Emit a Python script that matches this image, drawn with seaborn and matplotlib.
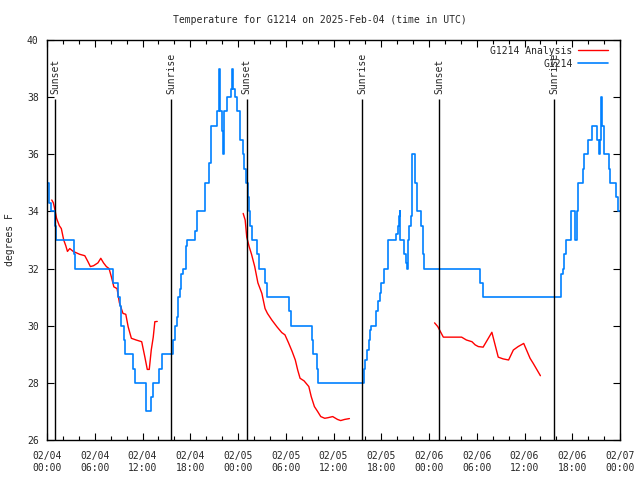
import matplotlib
matplotlib.use('Agg')
import matplotlib.pyplot as plt
from matplotlib.lines import Line2D
from matplotlib.ticker import MultipleLocator
import numpy as np
import pandas as pd
import seaborn as sns

# hours since 2025-02-04 00:00 UTC
obs_hours = [0.0, 0.3, 0.5, 1.0, 1.15, 3.35, 3.5, 8.35, 8.9, 9.2, 9.3, 9.7, 9.8,
             10.85, 11.1, 12.4, 12.5, 13.1, 13.3, 14.1, 14.4, 15.8, 16.1, 16.3,
             16.5, 16.7, 16.9, 17.1, 17.5, 17.6, 18.6, 18.9, 19.9, 20.4, 20.6,
             21.4, 21.6, 21.8, 22.0, 22.15, 22.3, 22.6, 23.1, 23.25, 23.4, 23.6,
             23.9, 24.2, 24.3, 24.6, 24.75, 25.0, 25.2, 25.35, 25.5, 25.7, 26.35,
             26.6, 27.4, 27.7, 30.4, 30.7, 33.3, 33.4, 33.9, 34.1, 39.8, 40.0,
             40.2, 40.4, 40.6, 40.7, 41.4, 41.6, 41.8, 42.0, 42.3, 42.8, 42.9,
             43.9, 44.05, 44.2, 44.3, 44.4, 44.9, 45.1, 45.2, 45.3, 45.5, 45.7,
             45.9, 46.2, 46.45, 46.95, 47.3, 47.4, 54.45, 54.8, 64.55, 64.8, 65.0,
             65.2, 65.9, 66.4, 66.55, 66.7, 67.4, 67.5, 68.0, 68.45, 69.1, 69.3,
             69.45, 69.6, 69.8, 70.0, 70.6, 70.8, 71.5, 71.8, 72.0]
obs_temps = [35, 34.3, 34, 33.5, 33, 32.5, 32, 31.5, 31, 30.7, 30, 29.5, 29,
             28.5, 28, 27.5, 27, 27.5, 28, 28.5, 29, 29.5, 30, 30.3,
             31, 31.3, 31.8, 32, 32.8, 33, 33.3, 34, 35, 35.7, 37,
             37.5, 39, 37.5, 36.8, 36, 37.5, 38, 38.3, 39, 38.3, 38,
             37.5, 37, 36.5, 36, 35.5, 35, 34.5, 34, 33.5, 33, 32.5,
             32, 31.5, 31, 30.5, 30, 29.5, 29, 28.5, 28, 28.5, 28.8,
             29.15, 29.5, 29.85, 30, 30.5, 30.85, 31.15, 31.5, 32, 32.5, 33,
             33.2, 33.5, 33.85, 34, 33, 32.5, 32.2, 32, 33, 33.5, 33.85,
             36, 35, 34, 33.5, 32.5, 32, 31.5, 31, 31.8, 32, 32.5,
             33, 34, 33, 34, 35, 35.5, 36, 36.5, 37, 36.5, 36,
             36.5, 38, 37, 36, 35.5, 35, 34.5, 34, 34]

ana1_hours = [0.6, 0.8, 1.0, 1.2, 1.55, 1.8, 2.1, 2.36, 2.57, 2.86, 3.3, 3.7, 4.1,
              4.75, 5.15, 5.45, 5.85, 6.4, 6.76, 7.1, 7.46, 7.8, 8.1, 8.4, 8.8,
              9.1, 9.55, 9.9, 10.2, 10.6, 11.2, 11.9, 12.3, 12.6, 12.85, 13.1,
              13.35, 13.55, 13.85]
ana1_temps = [34.4, 34.3, 34.05, 33.76, 33.5, 33.4, 33.0, 32.8, 32.6, 32.7, 32.6,
              32.55, 32.5, 32.45, 32.24, 32.07, 32.1, 32.2, 32.36, 32.2, 32.07,
              32.0, 31.7, 31.36, 31.3, 30.8, 30.43, 30.4, 29.96, 29.56, 29.5,
              29.44, 28.9, 28.47, 28.47, 29.15, 29.6, 30.14, 30.15]
ana2_hours = [24.65, 24.9, 25.1, 25.4, 25.7, 26.1, 26.5, 27.0, 27.4, 27.7, 28.25,
              28.9, 29.5, 29.9, 30.35, 30.8, 31.2, 31.5, 31.8, 32.3, 32.9, 33.2,
              33.6, 34.0, 34.4, 34.9, 35.3, 35.9, 36.5, 36.9, 37.4, 38.0]
ana2_temps = [33.93, 33.7, 33.1, 32.77, 32.5, 32.07, 31.5, 31.13, 30.6, 30.43,
              30.2, 29.96, 29.76, 29.68, 29.4, 29.1, 28.8, 28.45, 28.16, 28.07,
              27.87, 27.52, 27.17, 27.0, 26.82, 26.76, 26.78, 26.82, 26.72,
              26.68, 26.72, 26.75]
ana3_hours = [48.7, 49.1, 49.8, 52.1, 52.7, 53.4, 53.8, 54.2, 54.8, 55.9, 56.7,
              57.3, 58.0, 58.6, 59.2, 59.9, 60.7, 61.1, 62.0]
ana3_temps = [30.1, 29.97, 29.6, 29.6, 29.5, 29.44, 29.33, 29.27, 29.25, 29.77,
              28.9, 28.84, 28.8, 29.15, 29.27, 29.38, 28.86, 28.68, 28.25]

sun_hours = [1.0, 15.6, 25.1, 39.6, 49.3, 63.7]
sun_names = ['Sunset', 'Sunrise', 'Sunset', 'Sunrise', 'Sunset', 'Sunrise']

tick_hours = list(range(0, 73, 6))
tick_labels = ['02/04\n00:00', '02/04\n06:00', '02/04\n12:00', '02/04\n18:00',
               '02/05\n00:00', '02/05\n06:00', '02/05\n12:00', '02/05\n18:00',
               '02/06\n00:00', '02/06\n06:00', '02/06\n12:00', '02/06\n18:00',
               '02/07\n00:00']

sns.set_style('ticks')
plt.rcParams['font.family'] = ['DejaVu Sans Mono']
plt.rcParams['font.size'] = 7

fig = plt.figure(figsize=(6.4, 4.8), dpi=100)
ax = fig.add_axes([47/640, 40/480, 573/640, 400/480])

red = '#ff0000'
blue = '#0080ff'

for h, t in [(ana1_hours, ana1_temps), (ana2_hours, ana2_temps), (ana3_hours, ana3_temps)]:
    sns.lineplot(x=h, y=t, ax=ax, color=red, linewidth=1.0)
sns.lineplot(x=obs_hours, y=obs_temps, ax=ax, color=blue, linewidth=1.2,
             drawstyle='steps-post')

for h, name in zip(sun_hours, sun_names):
    ax.vlines(h, 26, 37.95, color='black', linewidth=1.0)
    ax.text(h, 38.12, name, rotation=90, ha='center', va='bottom', fontsize=7)

ax.set_xlim(0, 72)
ax.set_ylim(26, 40)
ax.set_xticks(tick_hours)
ax.set_xticklabels(tick_labels)
ax.xaxis.set_minor_locator(MultipleLocator(2))
ax.set_yticks(range(26, 41, 2))
ax.tick_params(which='both', direction='in', top=True, right=True,
               labelsize=7, width=0.8, color='black')
ax.tick_params(which='major', length=5)
ax.tick_params(which='minor', length=3)
ax.tick_params(axis='x', pad=8)
ax.tick_params(axis='y', pad=6)
ax.set_xlabel('')
ax.set_ylabel('')
for s in ax.spines.values():
    s.set_linewidth(1.0)
    s.set_color('black')

handles = [Line2D([], [], color=red, linewidth=1.0),
           Line2D([], [], color=blue, linewidth=1.2)]
ax.legend(handles, ['G1214 Analysis', 'G1214'], loc='upper right',
          bbox_to_anchor=(0.985, 0.995), frameon=False, markerfirst=False,
          handlelength=3.0, handletextpad=0.6, labelspacing=0.3,
          borderaxespad=0, fontsize=7)

fig.text(0.5, 1 - 20/480, 'Temperature for G1214 on 2025-Feb-04 (time in UTC)',
         ha='center', va='center', fontsize=7)
fig.text(10/640, 0.5, 'degrees F', rotation=90, ha='center', va='center', fontsize=7)

fig.savefig('out.png', dpi=100)
